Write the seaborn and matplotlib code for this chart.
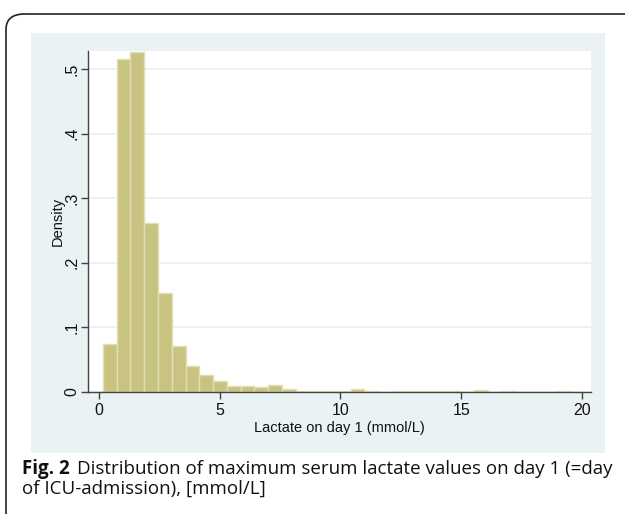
import numpy as np
import pandas as pd
import seaborn as sns
import matplotlib.pyplot as plt
from matplotlib.patches import FancyBboxPatch, Rectangle

# histogram: 34 bins from 0.17 to 19.53 mmol/L, density per bin
bin_start = 0.17
bin_stop = 19.53
density = [0.074, 0.515, 0.527, 0.262, 0.154, 0.072, 0.040, 0.026, 0.017, 0.009,
           0.009, 0.008, 0.011, 0.004, 0.002, 0.002, 0.001, 0.001, 0.004, 0.002,
           0.000, 0.001, 0.001, 0.001, 0.001, 0.001, 0.000, 0.003, 0.000, 0.002,
           0.000, 0.000, 0.000, 0.002]
x_ticks = [0, 5, 10, 15, 20]
y_ticks = [0, 0.1, 0.2, 0.3, 0.4, 0.5]
y_ticklabels = ['0', '.1', '.2', '.3', '.4', '.5']
x_label = 'Lactate on day 1 (mmol/L)'
y_label = 'Density'
caption_bold = 'Fig. 2'
caption_1 = 'Distribution of maximum serum lactate values on day 1 (=day'
caption_2 = 'of ICU-admission), [mmol/L]'

n_bins = len(density)
edges = np.linspace(bin_start, bin_stop, n_bins + 1)
df = pd.DataFrame({'center': (edges[:-1] + edges[1:]) / 2, 'density': density})

W, H = 625, 514
fig = plt.figure(figsize=(W / 100, H / 100), dpi=100)
fig.patch.set_facecolor('white')

def fx(px):
    return px / W

def fy(py):
    return 1 - py / H

# outer rounded frame
frame = FancyBboxPatch((fx(6), fy(540)), fx(660), (540 - 14) / H,
                       boxstyle='round,pad=0,rounding_size=0.03',
                       transform=fig.transFigure, facecolor='none',
                       edgecolor='#222222', linewidth=1.2, clip_on=False,
                       zorder=-5)
fig.patches.append(frame)

# stata-like light blue graph region
panel = Rectangle((fx(31), fy(453)), fx(605 - 31), (453 - 33) / H,
                  transform=fig.transFigure, facecolor='#eaf2f3',
                  edgecolor='none', zorder=-10)
fig.patches.append(panel)

ax = fig.add_axes([fx(88), fy(392), fx(591 - 88), (392 - 51) / H])
ax.set_facecolor('white')

sns.histplot(data=df, x='center', weights='density', bins=n_bins,
             binrange=(bin_start, bin_stop), stat='count',
             color='#c9c382', alpha=1, edgecolor='#e2dfb6', linewidth=1.0, ax=ax)

ax.set_xlim(-0.45, 20.37)
ax.set_ylim(0, 0.528)
ax.set_xticks(x_ticks)
ax.set_yticks(y_ticks)
ax.set_yticklabels(y_ticklabels, rotation=90, va='center')
ax.yaxis.grid(True, color='#e6eff1', linewidth=1.1)
ax.set_axisbelow(True)

font = 'Liberation Sans'
ax.tick_params(axis='both', length=5, width=1, color='#444444',
               labelsize=11.5, labelcolor='#111111')
ax.tick_params(axis='y', pad=1)
ax.tick_params(axis='x', pad=3)
for lab in ax.get_xticklabels() + ax.get_yticklabels():
    lab.set_family(font)

for s in ['top', 'right']:
    ax.spines[s].set_visible(False)
for s in ['left', 'bottom']:
    ax.spines[s].set_color('#444444')
    ax.spines[s].set_linewidth(1.0)

ax.set_xlabel(x_label, family=font, fontsize=10.5, color='#111111', labelpad=2)
ax.set_ylabel(y_label, family=font, fontsize=10.5, color='#111111', labelpad=0)

# caption
cap_font = 'Open Sans'
cap_size = 13.5
r = fig.canvas.get_renderer()
t0 = fig.text(fx(22), fy(474), caption_bold, family=cap_font, fontsize=cap_size,
              fontweight='bold', color='#111111', va='baseline')
bb = t0.get_window_extent(renderer=r)
fig.text(bb.x1 / W + fx(7), fy(474), caption_1, family=cap_font, fontsize=cap_size,
         color='#111111', va='baseline')
fig.text(fx(22), fy(494), caption_2, family=cap_font, fontsize=cap_size,
         color='#111111', va='baseline')

fig.savefig('out.png', dpi=100, facecolor='white')
